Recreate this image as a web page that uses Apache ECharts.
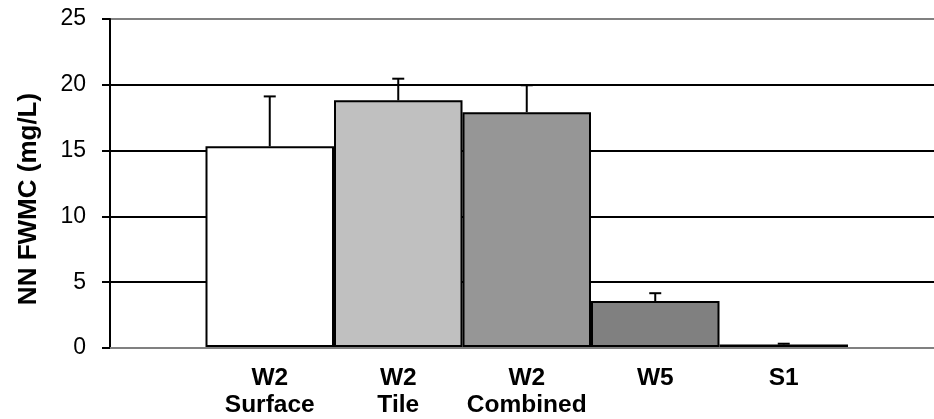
<!DOCTYPE html>
<html>
<head>
<meta charset="utf-8">
<script src="https://cdn.jsdelivr.net/npm/echarts@6/dist/echarts.min.js"></script>
<style>
html,body{margin:0;padding:0;background:#fff;}
#chart{width:934px;height:419px;}
</style>
</head>
<body>
<div id="chart"></div>
<script>
// ---- data ----
const categories = ["W2\nSurface", "W2\nTile", "W2\nCombined", "W5", "S1"];
const values = [15.3, 18.8, 17.9, 3.5, 0.2];
const errorTops = [19.1, 20.45, 19.95, 4.1, 0.25];
const barColors = ["#FFFFFF", "#C0C0C0", "#969696", "#808080", "#333333"];
const yTicks = [0, 5, 10, 15, 20, 25];
const yTitle = "NN FWMC (mg/L)";

const chart = echarts.init(document.getElementById('chart'), null, {renderer: 'canvas'});

const gridTop = 19, gridHeight = 329;
const yMin = yTicks[0], yMax = yTicks[yTicks.length - 1], yInt = yTicks[1] - yTicks[0];

const option = {
  animation: false,
  backgroundColor: '#ffffff',
  grid: [
    {left: 110, top: gridTop, width: 833.5, height: gridHeight, containLabel: false},
    {left: 205.5, top: gridTop, width: 642.5, height: gridHeight, containLabel: false}
  ],
  xAxis: [
    {gridIndex: 0, type: 'value', min: 0, max: 1,
     axisLine: {show: true, lineStyle: {color: '#808080', width: 2}},
     axisTick: {show: false}, axisLabel: {show: false}, splitLine: {show: false}},
    {gridIndex: 1, type: 'category', data: categories,
     axisLine: {show: false}, axisTick: {show: false}, splitLine: {show: false},
     axisLabel: {interval: 0, margin: 18, color: '#000', fontSize: 24.5, fontWeight: 'bold',
                 fontFamily: 'Liberation Sans, Arial, sans-serif', lineHeight: 27}}
  ],
  yAxis: [
    {gridIndex: 0, type: 'value', min: yMin, max: yMax, interval: yInt,
     axisLine: {show: true, lineStyle: {color: '#000', width: 2}},
     axisTick: {show: true, inside: false, length: 8, lineStyle: {color: '#000', width: 2}},
     axisLabel: {margin: 24, color: '#000', fontSize: 23, fontFamily: 'Liberation Sans, Arial, sans-serif'},
     splitLine: {show: true, lineStyle: {color: ['#808080', '#000', '#000', '#000', '#000', '#808080'], width: 2}}},
    {gridIndex: 1, type: 'value', min: yMin, max: yMax, interval: yInt, show: false}
  ],
  graphic: [
    {type: 'text', x: 29, y: 199, rotation: Math.PI / 2,
     style: {text: yTitle, fill: '#000', font: 'bold 26px "Liberation Sans", Arial, sans-serif',
             align: 'center', verticalAlign: 'middle'}}
  ],
  series: [
    {type: 'bar', xAxisIndex: 1, yAxisIndex: 1, barWidth: '100%', barGap: '0%',
     data: values.map((v, i) => ({value: v, itemStyle: {color: barColors[i]}})),
     itemStyle: {borderColor: '#000', borderWidth: 2}, z: 3},
    {type: 'custom', xAxisIndex: 1, yAxisIndex: 1, z: 4,
     data: values.map((v, i) => [i, v, errorTops[i]]),
     renderItem: function (params, api) {
       const p0 = api.coord([api.value(0), api.value(1)]);
       const p1 = api.coord([api.value(0), api.value(2)]);
       const style = {stroke: '#000', lineWidth: 2};
       return {type: 'group', children: [
         {type: 'line', shape: {x1: p0[0], y1: p0[1], x2: p1[0], y2: p1[1]}, style: style},
         {type: 'line', shape: {x1: p1[0] - 6, y1: p1[1], x2: p1[0] + 6, y2: p1[1]}, style: style}
       ]};
     }}
  ]
};
chart.setOption(option);
</script>
</body>
</html>
